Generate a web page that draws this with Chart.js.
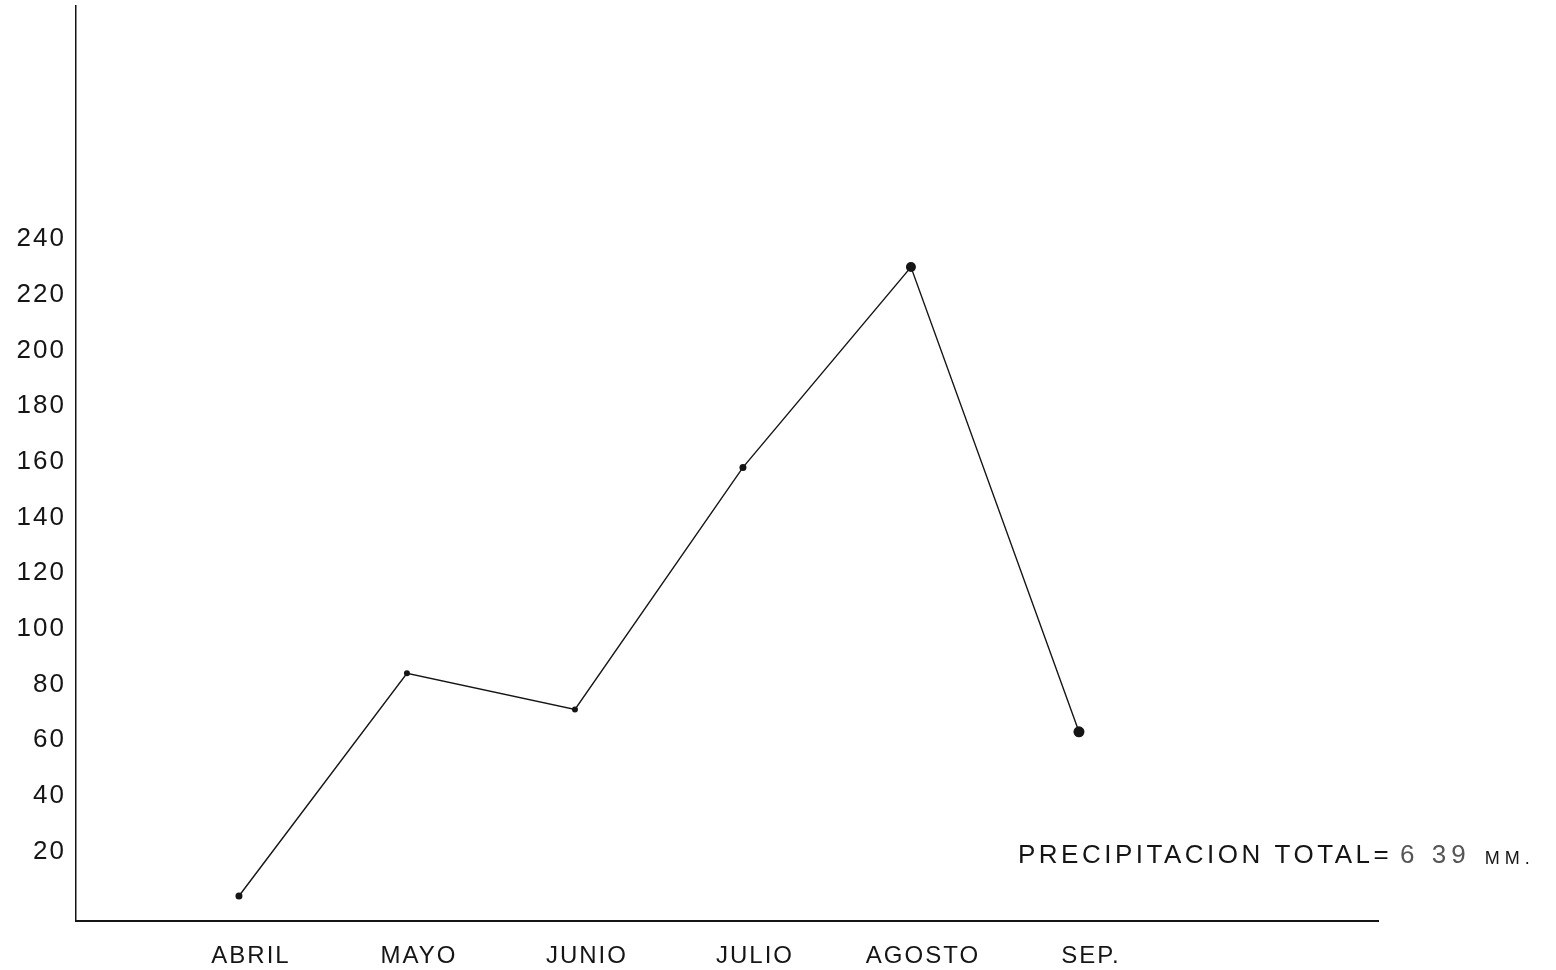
<!DOCTYPE html>
<html lang="es">
<head>
    <meta charset="UTF-8">
    <title>Precipitacion</title>
    <script src="https://cdn.jsdelivr.net/npm/chart.js"></script>
    <style>
        html, body { margin: 0; padding: 0; background: #fff; }
        #wrap { width: 1556px; height: 970px; }
    </style>
</head>
<body>
    <div id="wrap"><canvas id="chart1"></canvas></div>
    <script>
        // datos
        var meses = ['ABRIL', 'MAYO', 'JUNIO', 'JULIO', 'AGOSTO', 'SEP.'];
        var lluvia = [4, 84, 71, 158, 230, 63];
        var marcasY = [20, 40, 60, 80, 100, 120, 140, 160, 180, 200, 220, 240];
        var nota = 'PRECIPITACION TOTAL=';
        var total = '6 39';
        var unidad = 'MM.';

        var puntos = [];
        for (var i = 0; i < meses.length; i++) {
            puntos.push({ x: i + 1, y: lluvia[i] });
        }

        var tinta = '#151515';
        var fuente = '"Liberation Sans", Arial, sans-serif';

        var espaciado = {
            id: 'espaciado',
            beforeDraw: function (chart) {
                chart.ctx.letterSpacing = '2px';
            }
        };

        var notaTotal = {
            id: 'notaTotal',
            afterDraw: function (chart) {
                var ctx = chart.ctx;
                ctx.save();
                ctx.fillStyle = tinta;
                ctx.textBaseline = 'middle';
                ctx.textAlign = 'left';
                ctx.letterSpacing = '3.5px';
                ctx.font = '26px ' + fuente;
                ctx.fillText(nota, 1018, 856);
                var x = 1018 + ctx.measureText(nota).width + 8;
                ctx.fillStyle = '#555';
                ctx.letterSpacing = '5px';
                ctx.fillText(total, x, 856);
                x += ctx.measureText(total).width + 14;
                ctx.fillStyle = tinta;
                ctx.letterSpacing = '5px';
                ctx.font = '18px ' + fuente;
                ctx.fillText(unidad, x, 859);
                ctx.restore();
            }
        };

        var ctx = document.getElementById('chart1').getContext('2d');
        var chart = new Chart(ctx, {
            type: 'line',
            data: {
                datasets: [{
                    label: 'Precipitacion',
                    data: puntos,
                    borderColor: tinta,
                    borderWidth: 1.4,
                    backgroundColor: tinta,
                    pointRadius: [3.5, 3, 3, 3.5, 5, 5.5],
                    pointBorderWidth: 0,
                    tension: 0
                }]
            },
            options: {
                responsive: true,
                maintainAspectRatio: false,
                animation: false,
                layout: { padding: { top: 0, right: 178, left: 0, bottom: 0 } },
                plugins: {
                    legend: { display: false },
                    tooltip: { enabled: false }
                },
                scales: {
                    x: {
                        type: 'linear',
                        min: 0.03,
                        max: 7.78,
                        grid: { display: false, drawTicks: false },
                        border: { display: true, color: tinta, width: 2 },
                        afterBuildTicks: function (axis) {
                            axis.ticks = meses.map(function (m, k) { return { value: k + 1 }; });
                        },
                        afterFit: function (axis) {
                            axis.height = 49;
                            axis.paddingLeft = 0;
                            axis.paddingRight = 0;
                        },
                        ticks: {
                            color: tinta,
                            padding: 21,
                            labelOffset: 12,
                            maxRotation: 0,
                            autoSkip: false,
                            font: { family: fuente, size: 24 },
                            callback: function (v) { return meses[v - 1]; }
                        }
                    },
                    y: {
                        min: -5,
                        max: 324,
                        grid: { display: false, drawTicks: false },
                        border: { display: true, color: tinta, width: 1.5 },
                        afterBuildTicks: function (axis) {
                            axis.ticks = marcasY.map(function (v) { return { value: v }; });
                        },
                        afterFit: function (axis) {
                            axis.width = 76;
                            axis.paddingTop = 0;
                            axis.paddingBottom = 0;
                        },
                        ticks: {
                            color: tinta,
                            padding: 10,
                            font: { family: fuente, size: 26 },
                            callback: function (v) { return String(v); }
                        }
                    }
                }
            },
            plugins: [espaciado, notaTotal]
        });
    </script>
</body>
</html>
